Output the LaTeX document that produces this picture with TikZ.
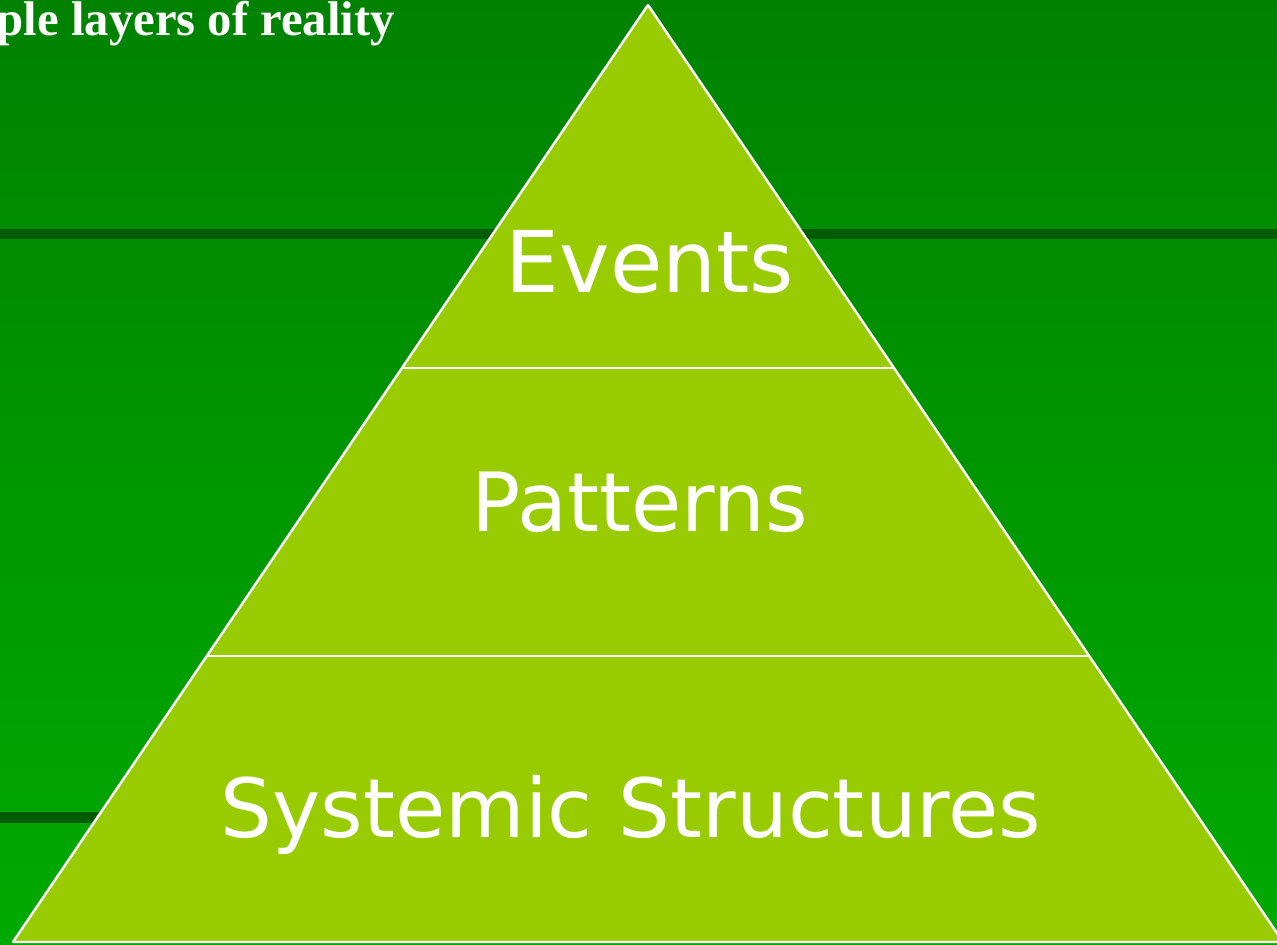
\documentclass[tikz,border=0pt]{standalone}
\usepackage{fontspec}
\setmainfont{DejaVu Sans}
\newfontfamily\titlefont{Liberation Serif}
\usetikzlibrary{calc}
\begin{document}
\begin{tikzpicture}[x=0.02cm,y=0.02cm,
  layer/.style={text=white,anchor=base,inner sep=0pt,font=\fontsize{46.5}{50}\selectfont}]
\definecolor{bgtop}{RGB}{0,130,0}
\definecolor{bgband}{RGB}{0,92,0}
\definecolor{bglow}{RGB}{0,140,0}
\definecolor{bgbot}{RGB}{0,170,0}
\definecolor{pyrgreen}{RGB}{153,204,0}
	\useasboundingbox (0,0) rectangle (1277,945);
	\clip (0,0) rectangle (1277,945);
	% background
	\shade[bottom color=bgbot,top color=bglow] (0,0) rectangle (1277,706);
	\shade[bottom color=bglow,top color=bgtop] (0,716) rectangle (1277,945);
	\fill[bgband] (0,706) rectangle (1277,716);
	\fill[bgband] (0,122) rectangle (640,133);
	% pyramid
	\coordinate (apex) at (648,940);
	\coordinate (bl) at (13,3);
	\coordinate (br) at (1283,3);
	\fill[pyrgreen] (apex)--(bl)--(br)--cycle;
	\draw[white,line width=1.4pt,line join=round] (apex)--(bl)--(br)--cycle;
	\coordinate (l1) at ($(apex)!0.3874!(bl)$);
	\coordinate (r1) at ($(apex)!0.3874!(br)$);
	\coordinate (l2) at ($(apex)!0.6948!(bl)$);
	\coordinate (r2) at ($(apex)!0.6948!(br)$);
	\draw[white,line width=1.2pt] (l1)--(r1);
	\draw[white,line width=1.2pt] (l2)--(r2);
	\node[layer,font=\fontsize{48.5}{52}\selectfont] (E) at (650,652){Events};
	\node[layer] (P) at (640,413){Patterns};
	\node[layer] (SS) at (631,107){Systemic Structures};
	\node[text=white,anchor=base east,inner sep=0pt,font=\titlefont\bfseries\fontsize{27.7}{30}\selectfont] (T) at (395,909){ple layers of reality};
\end{tikzpicture}
\end{document}
